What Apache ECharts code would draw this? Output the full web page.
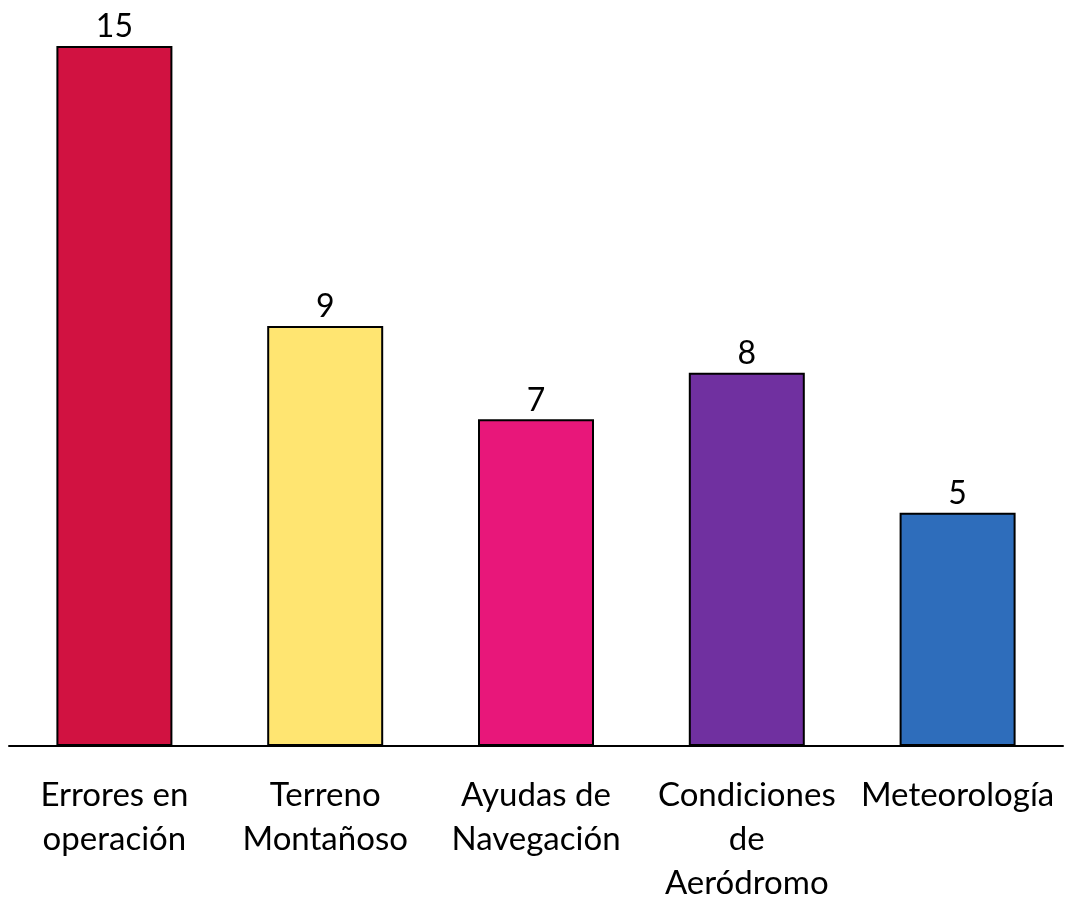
<!DOCTYPE html>
<html>
<head>
<meta charset="utf-8">
<script src="https://cdn.jsdelivr.net/npm/echarts@6/dist/echarts.min.js"></script>
<style>html,body{margin:0;padding:0;background:#fff;}#c{width:1067px;height:901px;}</style>
</head>
<body>
<div id="c"></div>
<script>
const categories = ["Errores en\noperación", "Terreno\nMontañoso", "Ayudas de\nNavegación", "Condiciones\nde\nAeródromo", "Meteorología"];
const values = [15, 9, 7, 8, 5];
const colors = ["#D11241", "#FFE571", "#E8177A", "#7030A0", "#2E6DBB"];

const FONT = "Lato";
const chart = echarts.init(document.getElementById('c'));
chart.setOption({
  animation: false,
  backgroundColor: '#ffffff',
  grid: { left: 9, right: 4, top: 46, bottom: 155, containLabel: false, outerBoundsMode: 'none' },
  xAxis: {
    type: 'category',
    data: categories,
    axisLine: { show: true, lineStyle: { color: '#000', width: 2 } },
    axisTick: { show: false },
    axisLabel: {
      interval: 0,
      margin: 27,
      color: '#000',
      fontFamily: FONT,
      fontSize: 33,
      lineHeight: 44
    }
  },
  yAxis: {
    type: 'value',
    min: 0,
    max: 15,
    show: false,
    splitLine: { show: false }
  },
  series: [{
    type: 'bar',
    barWidth: 116,
    data: values.map((v, i) => ({ value: v, itemStyle: { color: colors[i] } })),
    itemStyle: { borderColor: '#000', borderWidth: 2 },
    label: {
      show: true,
      position: 'top',
      distance: 3,
      color: '#000',
      fontFamily: FONT,
      fontSize: 32
    }
  }]
});
</script>
</body>
</html>
